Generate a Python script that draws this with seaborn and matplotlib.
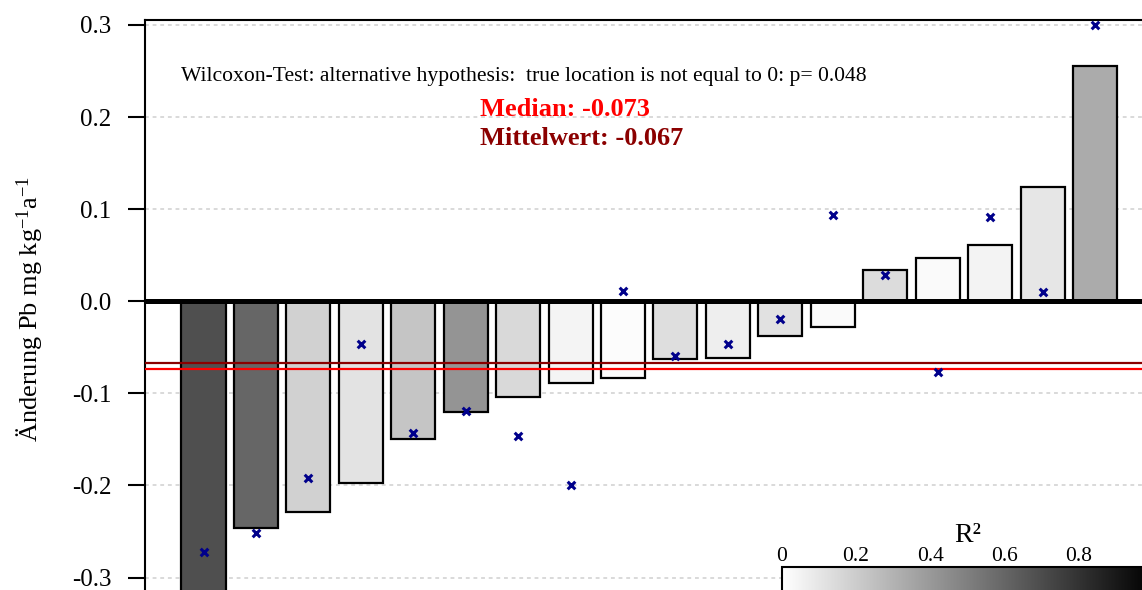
import numpy as np
import pandas as pd
import matplotlib
matplotlib.use("Agg")
import matplotlib.pyplot as plt
import seaborn as sns
from matplotlib.colors import Normalize
from matplotlib.cm import ScalarMappable

# Annual Pb change per site (sorted), secondary estimate (crosses) and R² of the trend fit
change = [-0.320, -0.246, -0.229, -0.197, -0.149, -0.120, -0.104, -0.089, -0.083,
          -0.0624, -0.0616, -0.038, -0.028, 0.0337, 0.047, 0.0606, 0.124, 0.2557]
estimate = [-0.2725, -0.252, -0.1915, -0.046, -0.1425, -0.119, -0.146, -0.199, 0.0113,
            -0.0594, -0.0464, -0.0192, 0.094, 0.0283, -0.0765, 0.0918, 0.0102, 0.300]
r_squared = [0.69, 0.60, 0.18, 0.11, 0.23, 0.42, 0.15, 0.045, 0.015,
             0.13, 0.07, 0.12, 0.02, 0.14, 0.02, 0.05, 0.10, 0.33]

median_val = -0.073
mean_val = -0.067
p_value = 0.048

y_ticks = [-0.3, -0.2, -0.1, 0.0, 0.1, 0.2, 0.3]
y_tick_labels = ["-0.3", "-0.2", "-0.1", "0.0", "0.1", "0.2", "0.3"]
cbar_ticks = [0, 0.2, 0.4, 0.6, 0.8]
cbar_tick_labels = ["0", "0.2", "0.4", "0.6", "0.8"]

sns.set_style("white")
plt.rcParams.update({
    "font.family": ["Liberation Serif", "DejaVu Serif"],
    "mathtext.fontset": "custom",
    "mathtext.rm": "Liberation Serif",
    "mathtext.it": "Liberation Serif:italic",
    "mathtext.bf": "Liberation Serif:bold",
    "text.color": "black",
    "axes.labelcolor": "black",
    "xtick.color": "black",
    "ytick.color": "black",
    "axes.edgecolor": "black",
})

n = len(change)
df = pd.DataFrame({
    "pos": np.arange(n),
    "site": [f"S{i + 1}" for i in range(n)],
    "change": change,
    "estimate": estimate,
    "r2": r_squared,
})

cmap = plt.get_cmap("gray_r")
norm = Normalize(0, 1)
bar_colors = [cmap(norm(v)) for v in df["r2"]]

W, H = 1142, 590
fig = plt.figure(figsize=(W / 100, H / 100), dpi=100)
ax = fig.add_axes([145 / W, (H - 669.7) / H, 1008.5 / W, 649.7 / H])

sns.barplot(data=df, x="pos", y="change", hue="site", palette=bar_colors,
            legend=False, width=0.84, edgecolor="black", linewidth=1.6,
            saturation=1, ax=ax)

ax.axhline(0, color="black", lw=3.6, zorder=4)
ax.axhline(mean_val, color="#8B0000", lw=1.6, zorder=4)
ax.axhline(median_val, color="#FF0000", lw=1.6, zorder=4)

sns.scatterplot(x=df["pos"], y=df["estimate"], marker="x", color="#00008B",
                s=30, linewidth=2.2, ax=ax, zorder=6, legend=False)

ax.set_xlim(-1.116, 18.116)
ax.set_ylim(-0.4, 0.3054)
ax.set_xticks([])
ax.set_xlabel("")
ax.set_yticks(y_ticks)
ax.set_yticklabels(y_tick_labels)
ax.tick_params(axis="y", left=True, length=12, width=1.5, pad=12,
               labelsize=18, direction="out", color="black", labelcolor="black")
ax.yaxis.grid(True, color="#cfcfcf", lw=1.1, ls=(0, (2.5, 2.5)))
ax.set_axisbelow(True)
for sp in ax.spines.values():
    sp.set_visible(True)
    sp.set_color("black")
    sp.set_linewidth(1.5)

ax.set_ylabel(r"Änderung Pb mg kg$^{-1}$a$^{-1}$", fontsize=19, color="black")
ax.yaxis.set_label_coords(-0.099, 0.556)

ax.text(-0.43, 0.2388,
        f"Wilcoxon-Test: alternative hypothesis:  true location is not equal to 0: p= {p_value}",
        fontsize=15.6, ha="left", va="baseline", color="black")
ax.text(5.273, 0.2010, f"Median: {median_val}", fontsize=19, fontweight="bold",
        color="#FF0000", ha="left", va="baseline")
ax.text(5.273, 0.1700, f"Mittelwert: {mean_val}", fontsize=19, fontweight="bold",
        color="#8B0000", ha="left", va="baseline")

# R² colour scale
cax = fig.add_axes([781.7 / W, (H - 612) / H, 371 / W, 45 / H])
cb = fig.colorbar(ScalarMappable(norm=norm, cmap=cmap), cax=cax, orientation="horizontal")
cax.xaxis.set_ticks_position("top")
cb.set_ticks(cbar_ticks)
cb.set_ticklabels(cbar_tick_labels)
cax.tick_params(length=0, pad=0.5, labelsize=15.5, labelcolor="black")
cb.outline.set_linewidth(1.5)
cb.outline.set_edgecolor("black")
fig.text(968 / W, 1 - 542 / H, "R²", ha="center", va="baseline", fontsize=20, color="black")

fig.savefig("out.png", dpi=100)
